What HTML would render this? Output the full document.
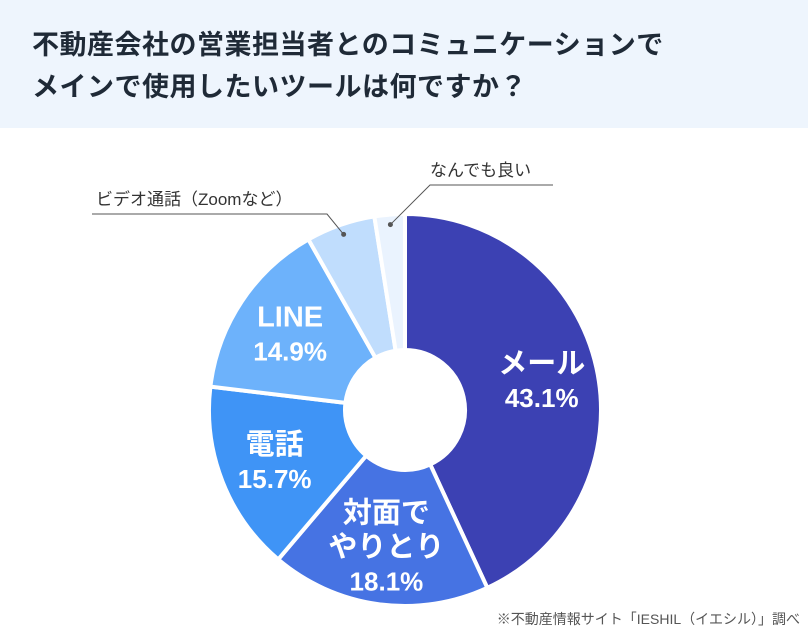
<!DOCTYPE html>
<html><head><meta charset="utf-8"><style>
body{margin:0;width:808px;height:641px;background:#fff;font-family:"Liberation Sans","Noto Sans CJK JP",sans-serif;overflow:hidden;position:relative}
.hdr{position:absolute;left:0;top:0;width:808px;height:128px;background:#eef5fd}
.hdr h1{margin:0;position:absolute;left:32px;top:24px;font-size:27px;line-height:42px;font-weight:bold;color:#1f2a37;letter-spacing:0.5px}
.note{position:absolute;right:8px;top:609px;font-size:14px;color:#555}
</style></head><body>
<div class="hdr"><h1>不動産会社の営業担当者とのコミュニケーションで<br>メインで使用したいツールは何ですか？</h1></div>
<svg id="chart" width="808" height="641" style="position:absolute;left:0;top:0"></svg>
<div class="note">※不動産情報サイト「IESHIL（イエシル）」調べ</div>
<script>
const categories=["メール","対面でやりとり","電話","LINE","ビデオ通話（Zoomなど）","なんでも良い"];
const values=[43.1,18.1,15.7,14.9,5.7,2.5];
const labelText=["43.1%","18.1%","15.7%","14.9%","",""];
const colors=["#3c41b3","#4673e3","#3f94f6","#6db2fb","#c0ddfd","#eaf3fe"];
const svg=document.getElementById('chart');
const NS='http://www.w3.org/2000/svg';
const cx=405,cy=410,R=196,r=60;
const total=values.reduce((a,b)=>a+b,0);
function pt(a,rad){return [cx+rad*Math.sin(a),cy-rad*Math.cos(a)];}
let acc=0;const mids=[];
values.forEach((v,i)=>{
 const a0=acc/total*2*Math.PI;acc+=v;const a1=acc/total*2*Math.PI;mids.push((a0+a1)/2);
 const large=(a1-a0)>Math.PI?1:0;
 const p0=pt(a0,R),p1=pt(a1,R),q1=pt(a1,r),q0=pt(a0,r);
 const p=document.createElementNS(NS,'path');
 p.setAttribute('d',`M${p0[0]},${p0[1]}A${R},${R} 0 ${large} 1 ${p1[0]},${p1[1]}L${q1[0]},${q1[1]}A${r},${r} 0 ${large} 0 ${q0[0]},${q0[1]}Z`);
 p.setAttribute('fill',colors[i]);p.setAttribute('stroke','#fff');p.setAttribute('stroke-width','4');
 
 
 svg.appendChild(p);
});
const inside=[["メール"],["対面で","やりとり"],["電話"],["LINE"]];
const rads=[140,138,140,138];
inside.forEach((lines,i)=>{
 const [x,y]=pt(mids[i],rads[i]);
 const all=lines.concat([labelText[i]]);
 const lh=34;const y0=y-(all.length-1)*lh/2;
 all.forEach((t,j)=>{
  const tx=document.createElementNS(NS,'text');
  tx.setAttribute('x',x);tx.setAttribute('y',y0+j*lh+10);
  tx.setAttribute('text-anchor','middle');tx.setAttribute('fill','#fff');
  tx.setAttribute('font-weight','bold');tx.setAttribute('font-size',j<lines.length?'29':'26');
  tx.textContent=t;
  
  
  svg.appendChild(tx);
 });
});
// callouts
function callout(i,lx,ly,tx,anchor,text){
 const [px,py]=pt(mids[i],R-10);
 const l=document.createElementNS(NS,'polyline');
 l.setAttribute('points',`${px},${py} ${lx},${ly} ${tx},${ly}`);
 l.setAttribute('fill','none');l.setAttribute('stroke','#555');l.setAttribute('stroke-width','1');
 
 
 svg.appendChild(l);
 const c=document.createElementNS(NS,'circle');
 c.setAttribute('cx',px);c.setAttribute('cy',py);c.setAttribute('r','2.5');c.setAttribute('fill','#555');
 
 
 svg.appendChild(c);
 const t=document.createElementNS(NS,'text');
 t.setAttribute('x',anchor);t.setAttribute('y',ly-9);t.setAttribute('font-size','17');t.setAttribute('fill','#333');
 t.textContent=text;
 
 
 svg.appendChild(t);
}
callout(4,327,214,92,96,categories[4]);
callout(5,430,185,553,430,categories[5]);
</script>
</body></html>
